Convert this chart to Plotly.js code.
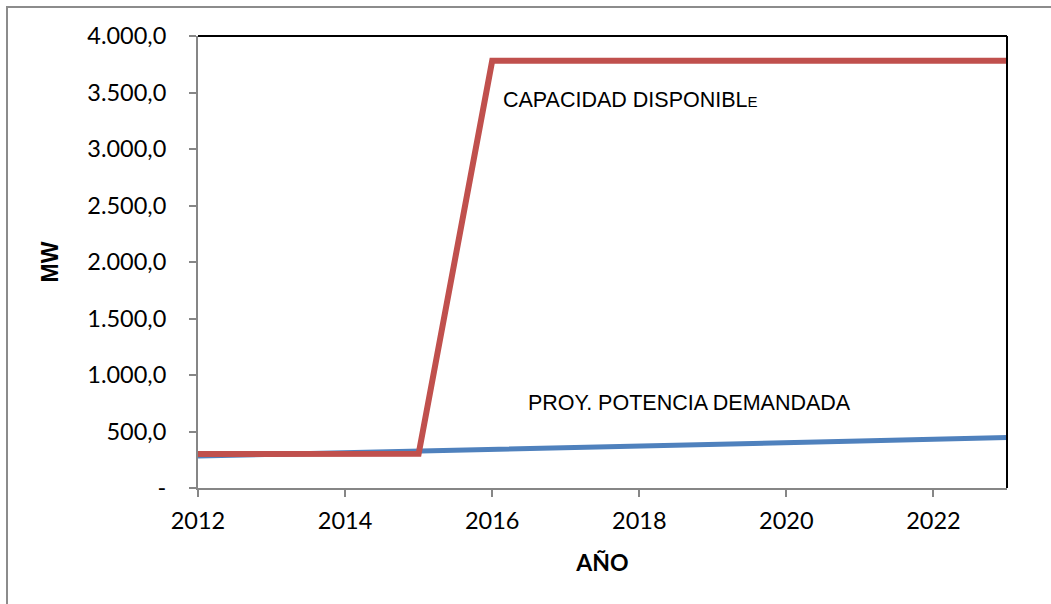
<!DOCTYPE html>
<html>
<head>
<meta charset="utf-8">
<script src="https://cdn.plot.ly/plotly-3.0.1.min.js"></script>
<style>
  html, body { margin: 0; padding: 0; background: #fff; }
  #wrap { position: relative; width: 1051px; height: 604px; overflow: hidden; }
  #frame { position: absolute; left: 6px; top: 6px; width: 1200px; height: 800px;
           border-left: 2px solid #8c8c8c; border-top: 2px solid #8c8c8c; pointer-events: none; }
  #chart { position: absolute; left: 0; top: 0; width: 1051px; height: 604px; }
</style>
</head>
<body>
<div id="wrap">
  <div id="chart"></div>
  <div id="frame"></div>
</div>
<script>
const years = [2012, 2013, 2014, 2015, 2016, 2017, 2018, 2019, 2020, 2021, 2022, 2023];
const capacidadDisponible = [300, 300, 302, 303, 3780, 3780, 3780, 3780, 3780, 3780, 3780, 3780];
const potenciaDemandada = [283, 297, 311, 325, 340, 352, 365, 383, 400, 416, 432, 448];

const yTickVals = [0, 500, 1000, 1500, 2000, 2500, 3000, 3500, 4000];
const yTickText = ["-", "500,0", "1.000,0", "1.500,0", "2.000,0", "2.500,0", "3.000,0", "3.500,0", "4.000,0"];
const xTickVals = [2012, 2014, 2016, 2018, 2020, 2022];

const labelCapacidad = "CAPACIDAD DISPONIBL<span style=\"font-size:15px\">E</span>";
const labelDemanda = "PROY. POTENCIA DEMANDADA";

const traces = [
  {
    x: years, y: potenciaDemandada, type: 'scatter', mode: 'lines',
    line: { color: '#4F81BD', width: 5 }, name: labelDemanda, hoverinfo: 'skip'
  },
  {
    x: years, y: capacidadDisponible, type: 'scatter', mode: 'lines',
    line: { color: '#C0504D', width: 6 }, name: 'CAPACIDAD DISPONIBLE', hoverinfo: 'skip'
  }
];

const tickFont = { family: 'Lato, "Open Sans", sans-serif', size: 23.5, color: '#000' };

const layout = {
  width: 1051, height: 604,
  margin: { l: 198, r: 44, t: 36, b: 116 },
  paper_bgcolor: '#fff', plot_bgcolor: '#fff',
  showlegend: false,
  xaxis: {
    range: [2012, 2023],
    tickvals: xTickVals, ticktext: xTickVals.map(String),
    ticks: 'outside', ticklen: 7, tickwidth: 2, tickcolor: '#868686',
    ticklabelstandoff: 4,
    showline: true, linecolor: '#868686', linewidth: 2,
    showgrid: false, zeroline: false,
    tickfont: tickFont,
    title: { text: 'AÑO', font: { family: 'Lato, sans-serif', size: 23, color: '#000', weight: 'bold' }, standoff: 22 }
  },
  yaxis: {
    range: [0, 4000],
    tickvals: yTickVals, ticktext: yTickText,
    ticks: 'outside', ticklen: 7, tickwidth: 2, tickcolor: '#868686',
    ticklabelstandoff: 18,
    showline: true, linecolor: '#868686', linewidth: 2,
    showgrid: false, zeroline: false,
    tickfont: tickFont,
    title: { text: 'MW', font: { family: '"Liberation Sans", Arial, sans-serif', size: 23, color: '#000', weight: 'bold' }, standoff: 22 }
  },
  shapes: [
    { type: 'line', xref: 'paper', yref: 'paper', x0: 0, x1: 1, y0: 1, y1: 1, line: { color: '#000', width: 2 } },
    { type: 'line', xref: 'paper', yref: 'paper', x0: 1, x1: 1, y0: 0, y1: 1, line: { color: '#000', width: 2 } }
  ],
  annotations: [
    { x: 2016.12, y: 3430, xref: 'x', yref: 'y', xanchor: 'left', yanchor: 'middle', showarrow: false,
      text: labelCapacidad, font: { family: '"Liberation Sans", Arial, sans-serif', size: 21.5, color: '#000' } },
    { x: 2016.46, y: 750, xref: 'x', yref: 'y', xanchor: 'left', yanchor: 'middle', showarrow: false,
      text: labelDemanda, font: { family: '"Liberation Sans", Arial, sans-serif', size: 21.5, color: '#000' } }
  ]
};

Plotly.newPlot('chart', traces, layout, { displayModeBar: false, staticPlot: true });
</script>
</body>
</html>
